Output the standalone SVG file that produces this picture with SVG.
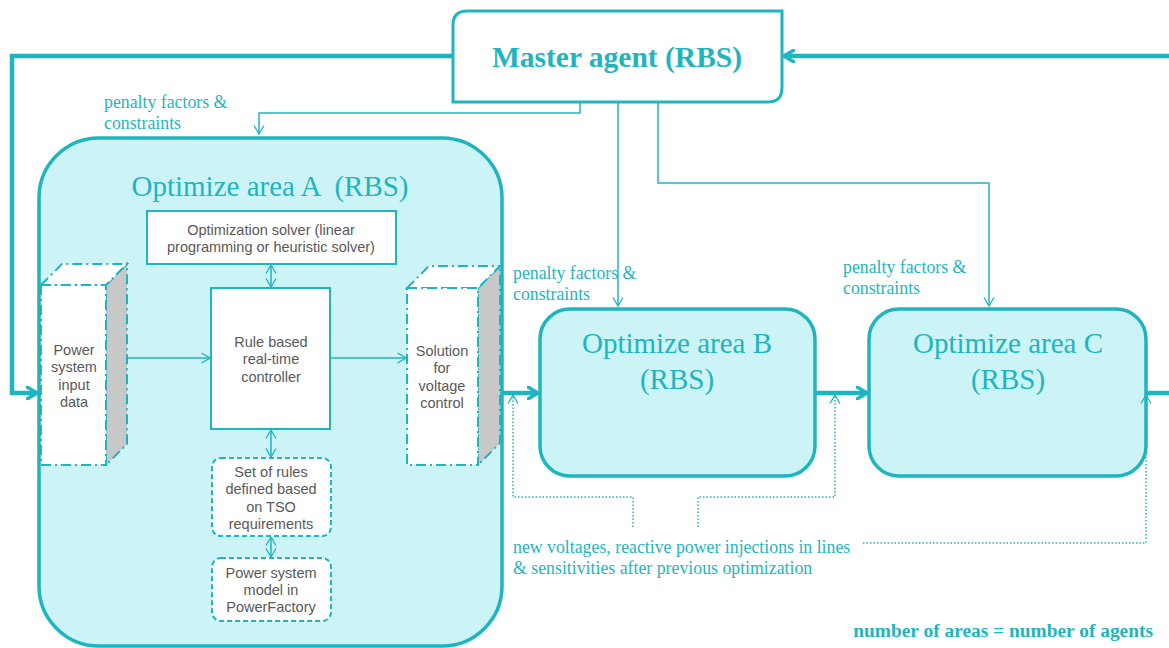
<svg xmlns="http://www.w3.org/2000/svg" width="1169" height="648" viewBox="0 0 1169 648">
  <style>
    .thick { fill: none; stroke: #1fb5bf; stroke-width: 4.5; }
    .thin { fill: none; stroke: #1fb5bf; stroke-width: 1.5; }
    .dot { fill: none; stroke: #1fb5bf; stroke-width: 1.5; stroke-dasharray: 1.5 2; }
    .area { fill: #ccf3f6; stroke: #1fb5bf; stroke-width: 3.5; }
    .box { fill: #ffffff; stroke: #1fb5bf; stroke-width: 2; }
    .dashbox { fill: #ffffff; stroke: #1fb5bf; stroke-width: 2; stroke-dasharray: 5 3; }
    .dashdot { fill: #ffffff; stroke: #1fb5bf; stroke-width: 2; stroke-dasharray: 10 4 2 4; }
    .side { fill: #c8c8c8; stroke: #1fb5bf; stroke-width: 2; stroke-dasharray: 10 4 2 4; }
    .serif { font-family: "Liberation Serif", "Times New Roman", serif; fill: #1fb5bf; }
    .big { font-size: 29px; text-anchor: middle; }
    .sans { font-family: "Liberation Sans", Arial, sans-serif; fill: #595959; font-size: 14.5px; text-anchor: middle; }
  </style>
  <defs>
    <marker id="bigHead" viewBox="0 0 12 14" refX="11" refY="7" markerWidth="12" markerHeight="14" markerUnits="userSpaceOnUse" orient="auto-start-reverse">
      <path d="M1,1 L11,7 L1,13" fill="none" stroke="#1fb5bf" stroke-width="3.5" stroke-linecap="round" stroke-linejoin="round"/>
    </marker>
    <marker id="thinHead" viewBox="0 0 10 12" refX="9.5" refY="6" markerWidth="10" markerHeight="12" markerUnits="userSpaceOnUse" orient="auto-start-reverse">
      <path d="M1,1 L9.5,6 L1,11" fill="none" stroke="#1fb5bf" stroke-width="1.3"/>
    </marker>
  </defs>

  <!-- master agent -->
  <g id="master">
    <path class="box" style="stroke-width:3" d="M467,11 H782 V88 Q782,102 768,102 H453 V25 Q453,11 467,11 Z"/>
    <text class="serif" x="617" y="67" font-size="29.5" font-weight="bold" text-anchor="middle">Master agent (RBS)</text>
  </g>

  <!-- area A with its inner blocks -->
  <g id="areaA">
    <rect class="area" x="39" y="138" width="463" height="508" rx="60" ry="60"/>
    <text class="serif big" x="270" y="196" xml:space="preserve">Optimize area A  (RBS)</text>
  </g>

  <g id="solver">
    <rect class="box" x="147" y="211" width="249" height="53"/>
    <text class="sans" x="271" y="235">Optimization solver (linear</text>
    <text class="sans" x="271" y="252">programming or heuristic solver)</text>
  </g>

  <g id="controller">
    <rect class="box" x="211" y="288" width="119" height="141"/>
    <text class="sans" x="271" y="347">Rule based</text>
    <text class="sans" x="271" y="364">real-time</text>
    <text class="sans" x="271" y="382">controller</text>
  </g>

  <g id="inputData">
    <polygon class="side" points="106,285 127,264 127,444 106,465"/>
    <polygon class="dashdot" points="41,285 62,264 127,264 106,285"/>
    <rect class="dashdot" x="41" y="285" width="65" height="180"/>
    <text class="sans" x="74" y="355">Power</text>
    <text class="sans" x="74" y="372">system</text>
    <text class="sans" x="74" y="390">input</text>
    <text class="sans" x="74" y="407">data</text>
  </g>

  <g id="solution">
    <polygon class="side" points="478,288 500,266 500,443 478,465"/>
    <polygon class="dashdot" points="407,288 429,266 500,266 478,288"/>
    <rect class="dashdot" x="407" y="288" width="71" height="177"/>
    <text class="sans" x="442" y="356">Solution</text>
    <text class="sans" x="442" y="373">for</text>
    <text class="sans" x="442" y="391">voltage</text>
    <text class="sans" x="442" y="408">control</text>
  </g>

  <g id="rules">
    <rect class="dashbox" x="212" y="458" width="119" height="78" rx="9" ry="9"/>
    <text class="sans" x="271" y="477">Set of rules</text>
    <text class="sans" x="271" y="494">defined based</text>
    <text class="sans" x="271" y="512">on TSO</text>
    <text class="sans" x="271" y="529">requirements</text>
  </g>

  <g id="model">
    <rect class="dashbox" x="212" y="558" width="119" height="63" rx="9" ry="9"/>
    <text class="sans" x="271" y="578">Power system</text>
    <text class="sans" x="271" y="595">model in</text>
    <text class="sans" x="271" y="612">PowerFactory</text>
  </g>

  <!-- areas B and C -->
  <g id="areaB">
    <rect class="area" x="540" y="309" width="275" height="167" rx="30" ry="30"/>
    <text class="serif big" x="677" y="353">Optimize area B</text>
    <text class="serif big" x="677" y="389">(RBS)</text>
  </g>

  <g id="areaC">
    <rect class="area" x="869" y="309" width="277" height="167" rx="30" ry="30"/>
    <text class="serif big" x="1008" y="353">Optimize area C</text>
    <text class="serif big" x="1008" y="389">(RBS)</text>
  </g>

  <!-- connectors -->
  <g id="connectors">
    <!-- main loop -->
    <path class="thick" d="M453,56 H12 V393 H37" marker-end="url(#bigHead)"/>
    <path class="thick" d="M1169,56 H784" marker-end="url(#bigHead)"/>
    <path class="thick" d="M502,393 H538" marker-end="url(#bigHead)"/>
    <path class="thick" d="M815,393 H867" marker-end="url(#bigHead)"/>
    <path class="thick" d="M1146,393 H1169"/>

    <!-- penalty factors from master -->
    <path class="thin" d="M580,102 V113 H259 V134" marker-end="url(#thinHead)"/>
    <path class="thin" d="M618,102 V306" marker-end="url(#thinHead)"/>
    <path class="thin" d="M658,102 V183 H989 V306" marker-end="url(#thinHead)"/>

    <!-- inside area A -->
    <path class="thin" d="M127,358 H210" marker-end="url(#thinHead)"/>
    <path class="thin" d="M330,358 H406" marker-end="url(#thinHead)"/>
    <path class="thin" d="M271,265 V287" marker-start="url(#thinHead)" marker-end="url(#thinHead)"/>
    <path class="thin" d="M271,430 V457" marker-start="url(#thinHead)" marker-end="url(#thinHead)"/>
    <path class="thin" d="M271,537 V557" marker-start="url(#thinHead)" marker-end="url(#thinHead)"/>

    <!-- feedback of previous optimization -->
    <path class="dot" d="M633,527 V497 H513 V395" marker-end="url(#thinHead)"/>
    <path class="dot" d="M698,527 V497 H835 V395" marker-end="url(#thinHead)"/>
    <path class="dot" d="M863,543 H1146 V395" marker-end="url(#thinHead)"/>
  </g>

  <!-- labels -->
  <g id="labels" class="serif" font-size="17.8">
    <text x="104" y="108">penalty factors &amp;</text>
    <text x="104" y="129">constraints</text>
    <text x="513" y="279">penalty factors &amp;</text>
    <text x="513" y="300">constraints</text>
    <text x="843" y="273">penalty factors &amp;</text>
    <text x="843" y="294">constraints</text>
    <text x="513" y="553">new voltages, reactive power injections in lines</text>
    <text x="513" y="574">&amp; sensitivities after previous optimization</text>
    <text x="1153" y="637" font-size="19.4" font-weight="bold" text-anchor="end">number of areas = number of agents</text>
  </g>
</svg>
